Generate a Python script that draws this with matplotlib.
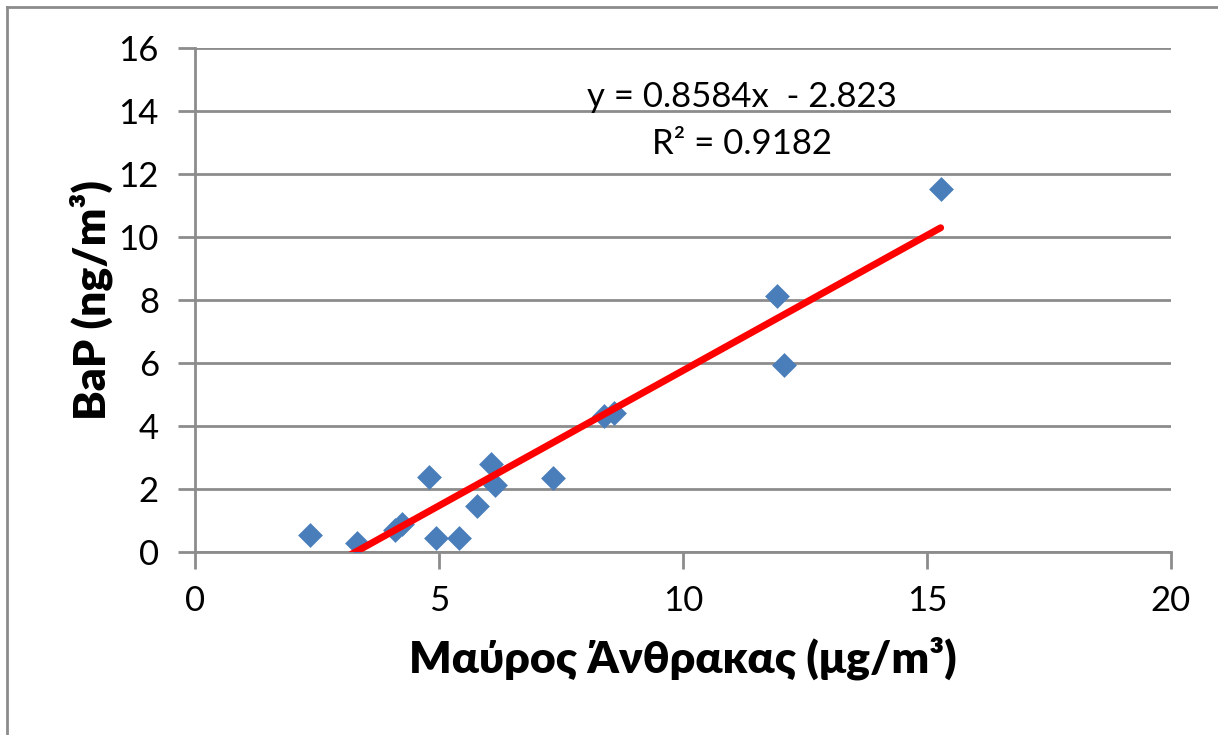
import matplotlib.pyplot as plt
from matplotlib.lines import Line2D

# Μαύρος Άνθρακας (x) vs BaP (y)
bc = [2.36, 3.32, 4.10, 4.25, 4.79, 4.94, 5.42, 5.78, 6.07, 6.15, 7.34, 8.38, 8.58, 11.92, 12.06, 15.28]
bap = [0.54, 0.29, 0.70, 0.89, 2.37, 0.43, 0.43, 1.47, 2.78, 2.13, 2.34, 4.32, 4.40, 8.14, 5.94, 11.51]

slope = 0.8584
intercept = -2.823
eq_text = "y = 0.8584x  - 2.823"
r2_text = "R² = 0.9182"

x_ticks = [0, 5, 10, 15, 20]
y_ticks = [0, 2, 4, 6, 8, 10, 12, 14, 16]

plt.rcParams["font.family"] = ["Lato", "DejaVu Sans"]
grey = "#8c8c8c"

fig = plt.figure(figsize=(12.18, 7.35), dpi=100)
ax = fig.add_axes([195 / 1218, 1 - 552 / 735, (1171 - 195) / 1218, (552 - 48) / 735])

# outer chart border (only left and top visible in the crop)
fig.add_artist(Line2D([7 / 1218, 7 / 1218], [0, 1 - 7 / 735], color=grey, lw=2, transform=fig.transFigure))
fig.add_artist(Line2D([7 / 1218, 1], [1 - 7 / 735, 1 - 7 / 735], color=grey, lw=2, transform=fig.transFigure))

ax.scatter(bc, bap, marker="D", s=160, color="#4a7ebb", zorder=3, linewidths=0)

x0, x1 = min(bc), max(bc)
ax.plot([x0, x1], [slope * x0 + intercept, slope * x1 + intercept],
        color="#ff0000", lw=5, solid_capstyle="round", zorder=4)

ax.set_xlim(0, 20)
ax.set_ylim(0, 16)
ax.set_xticks(x_ticks)
ax.set_yticks(y_ticks)
ax.grid(axis="y", color=grey, lw=2)
ax.set_axisbelow(True)
for side in ["top", "right"]:
    ax.spines[side].set_visible(False)
for side in ["left", "bottom"]:
    ax.spines[side].set_color(grey)
    ax.spines[side].set_linewidth(2)
ax.tick_params(axis="both", colors=grey, width=2, length=12, labelsize=25, labelcolor="black")
ax.tick_params(axis="x", pad=12)
ax.tick_params(axis="y", pad=14)

ax.set_xlabel("Μαύρος Άνθρακας (μg/m³)", fontsize=32, fontweight="heavy", labelpad=14)
ax.set_ylabel("BaP (ng/m³)", fontsize=32, fontweight="heavy", labelpad=4)

ax.text(11.2, 14.45, eq_text, ha="center", va="center", fontsize=25)
ax.text(11.2, 12.95, r2_text, ha="center", va="center", fontsize=25)

fig.savefig("out.png", dpi=100, facecolor="white")
